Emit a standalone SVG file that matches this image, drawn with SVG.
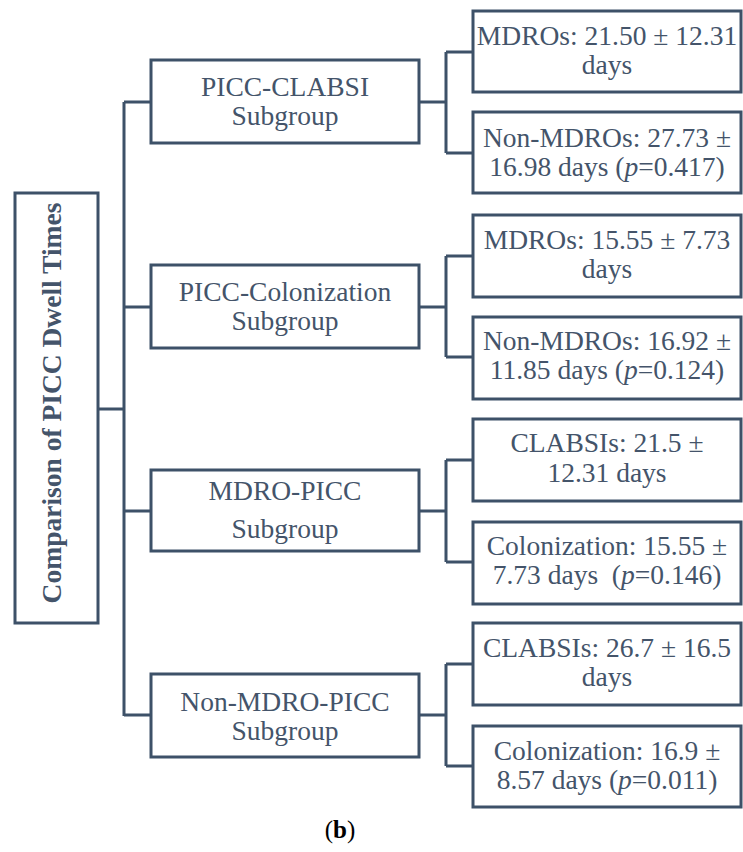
<svg xmlns="http://www.w3.org/2000/svg" width="743" height="852" viewBox="0 0 743 852">
<style>
.box{fill:#fff;stroke:#3D5168;stroke-width:3}
.ln{fill:none;stroke:#3D5168;stroke-width:3}
.t{font-family:"Liberation Serif","Times New Roman",serif;font-size:27.5px;fill:#44546A;text-anchor:middle}
.b{font-weight:bold}
.i{font-style:italic}
</style>
<rect width="743" height="852" fill="#fff"/>
<g id="connectors">
<path class="ln" d="M98,409H124M124,102V716M124,102H151M124,307H151M124,511H151M124,715H151"/>
<path class="ln" d="M419,102H446M446,52V153M446,52H473M446,153H473"/>
<path class="ln" d="M419,307H446M446,256V357M446,256H473M446,357H473"/>
<path class="ln" d="M419,511H446M446,460V562M446,460H473M446,562H473"/>
<path class="ln" d="M419,715H446M446,664V766M446,664H473M446,766H473"/>
</g>
<g id="root">
<rect class="box" x="15" y="193" width="83" height="430"/>
<text class="t b" transform="translate(61,403) rotate(-90)">Comparison of PICC Dwell Times</text>
</g>
<g id="picc-clabsi">
<rect class="box" x="151" y="60" width="268" height="83"/>
<text class="t" x="285" y="96">PICC-CLABSI</text>
<text class="t" x="285" y="125">Subgroup</text>
</g>
<g id="picc-colonization">
<rect class="box" x="151" y="265" width="268" height="83"/>
<text class="t" x="285" y="301">PICC-Colonization</text>
<text class="t" x="285" y="330">Subgroup</text>
</g>
<g id="mdro-picc">
<rect class="box" x="151" y="470" width="268" height="81"/>
<text class="t" x="285" y="500">MDRO-PICC</text>
<text class="t" x="285" y="538">Subgroup</text>
</g>
<g id="non-mdro-picc">
<rect class="box" x="151" y="674" width="268" height="83"/>
<text class="t" x="285" y="711">Non-MDRO-PICC</text>
<text class="t" x="285" y="740">Subgroup</text>
</g>
<g id="leaf1">
<rect class="box" x="473" y="11" width="268" height="81"/>
<text class="t" x="607" y="45">MDROs: 21.50 ± 12.31</text>
<text class="t" x="607" y="74">days</text>
</g>
<g id="leaf2">
<rect class="box" x="473" y="112" width="268" height="81"/>
<text class="t" x="607" y="147">Non-MDROs: 27.73 ±</text>
<text class="t" x="607" y="176">16.98 days (<tspan class="i">p</tspan>=0.417)</text>
</g>
<g id="leaf3">
<rect class="box" x="473" y="215" width="268" height="82"/>
<text class="t" x="607" y="249">MDROs: 15.55 ± 7.73</text>
<text class="t" x="607" y="278">days</text>
</g>
<g id="leaf4">
<rect class="box" x="473" y="317" width="268" height="82"/>
<text class="t" x="607" y="350">Non-MDROs: 16.92 ±</text>
<text class="t" x="607" y="379">11.85 days (<tspan class="i">p</tspan>=0.124)</text>
</g>
<g id="leaf5">
<rect class="box" x="473" y="419" width="268" height="82"/>
<text class="t" x="607" y="452">CLABSIs: 21.5 ±</text>
<text class="t" x="607" y="482">12.31 days</text>
</g>
<g id="leaf6">
<rect class="box" x="473" y="522" width="268" height="82"/>
<text class="t" x="607" y="555">Colonization: 15.55 ±</text>
<text class="t" x="607" y="584" style="white-space:pre" xml:space="preserve">7.73 days  (<tspan class="i">p</tspan>=0.146)</text>
</g>
<g id="leaf7">
<rect class="box" x="473" y="623" width="268" height="82"/>
<text class="t" x="607" y="657">CLABSIs: 26.7 ± 16.5</text>
<text class="t" x="607" y="686">days</text>
</g>
<g id="leaf8">
<rect class="box" x="473" y="726" width="268" height="81"/>
<text class="t" x="607" y="760">Colonization: 16.9 ±</text>
<text class="t" x="607" y="789">8.57 days (<tspan class="i">p</tspan>=0.011)</text>
</g>
<text x="340" y="838" style="font-family:'Liberation Serif',serif;font-size:25px;fill:#000;text-anchor:middle">(<tspan font-weight="bold">b</tspan>)</text>
</svg>
